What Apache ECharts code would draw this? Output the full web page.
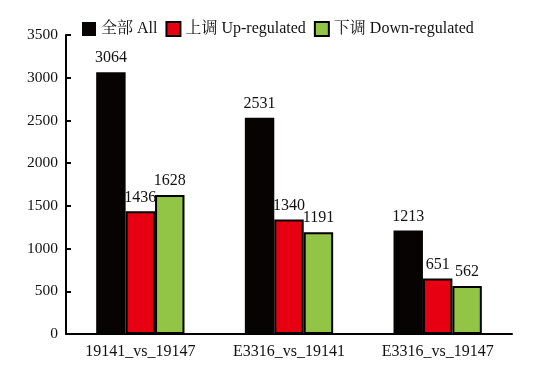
<!DOCTYPE html>
<html><head><meta charset="utf-8">
<script src="https://cdn.jsdelivr.net/npm/echarts@6/dist/echarts.min.js"></script>
<style>html,body{margin:0;padding:0;background:#fff}#c{width:542px;height:382px}</style>
</head><body><div id="c"></div>
<script>
const categories = ['19141_vs_19147', 'E3316_vs_19141', 'E3316_vs_19147'];
const seriesNames = ['全部 All', '上调 Up-regulated', '下调 Down-regulated'];
const allValues = [3064, 2531, 1213];
const upValues = [1436, 1340, 651];
const downValues = [1628, 1191, 562];
const yTicks = [0, 500, 1000, 1500, 2000, 2500, 3000, 3500];

const FONT = '"Liberation Serif", "Times New Roman", "Noto Serif CJK SC", "Noto Sans CJK SC", serif';
const colors = ['#080303', '#e60012', '#92c545'];
const borders = [0, 2, 2];
const dataSets = [allValues, upValues, downValues];

const chart = echarts.init(document.getElementById('c'));
chart.setOption({
  animation: false,
  textStyle: { fontFamily: FONT },
  legend: {
    top: 16, left: 77, icon: 'rect',
    itemWidth: 14, itemHeight: 14, itemGap: 8,
    textStyle: { fontFamily: FONT, fontSize: 16, color: '#111' },
    data: seriesNames
  },
  grid: { left: 66, right: 30, top: 35, bottom: 48 },
  xAxis: {
    type: 'category', data: categories,
    axisLine: { lineStyle: { color: '#000', width: 2 } },
    axisTick: { inside: true, length: 6, lineStyle: { color: '#000', width: 2 } },
    axisLabel: { fontFamily: FONT, fontSize: 16, color: '#111', margin: 10 }
  },
  yAxis: {
    type: 'value', min: 0, max: 3500, interval: 500,
    axisLine: { show: true, lineStyle: { color: '#000', width: 2 } },
    axisTick: { show: true, inside: true, length: 5, lineStyle: { color: '#000', width: 2 } },
    axisLabel: { fontFamily: FONT, fontSize: 15.5, color: '#111', margin: 8,
      formatter: v => yTicks.includes(v) ? String(v) : '' },
    splitLine: { show: false }
  },
  series: dataSets.map((d, i) => ({
    name: seriesNames[i], type: 'bar', data: d,
    barWidth: '19.8%', barGap: '0%',
    itemStyle: { color: colors[i], borderColor: '#000', borderWidth: borders[i] },
    label: { show: true, position: 'top', distance: 6, fontFamily: FONT, fontSize: 16, color: '#111' }
  }))
});
</script></body></html>
